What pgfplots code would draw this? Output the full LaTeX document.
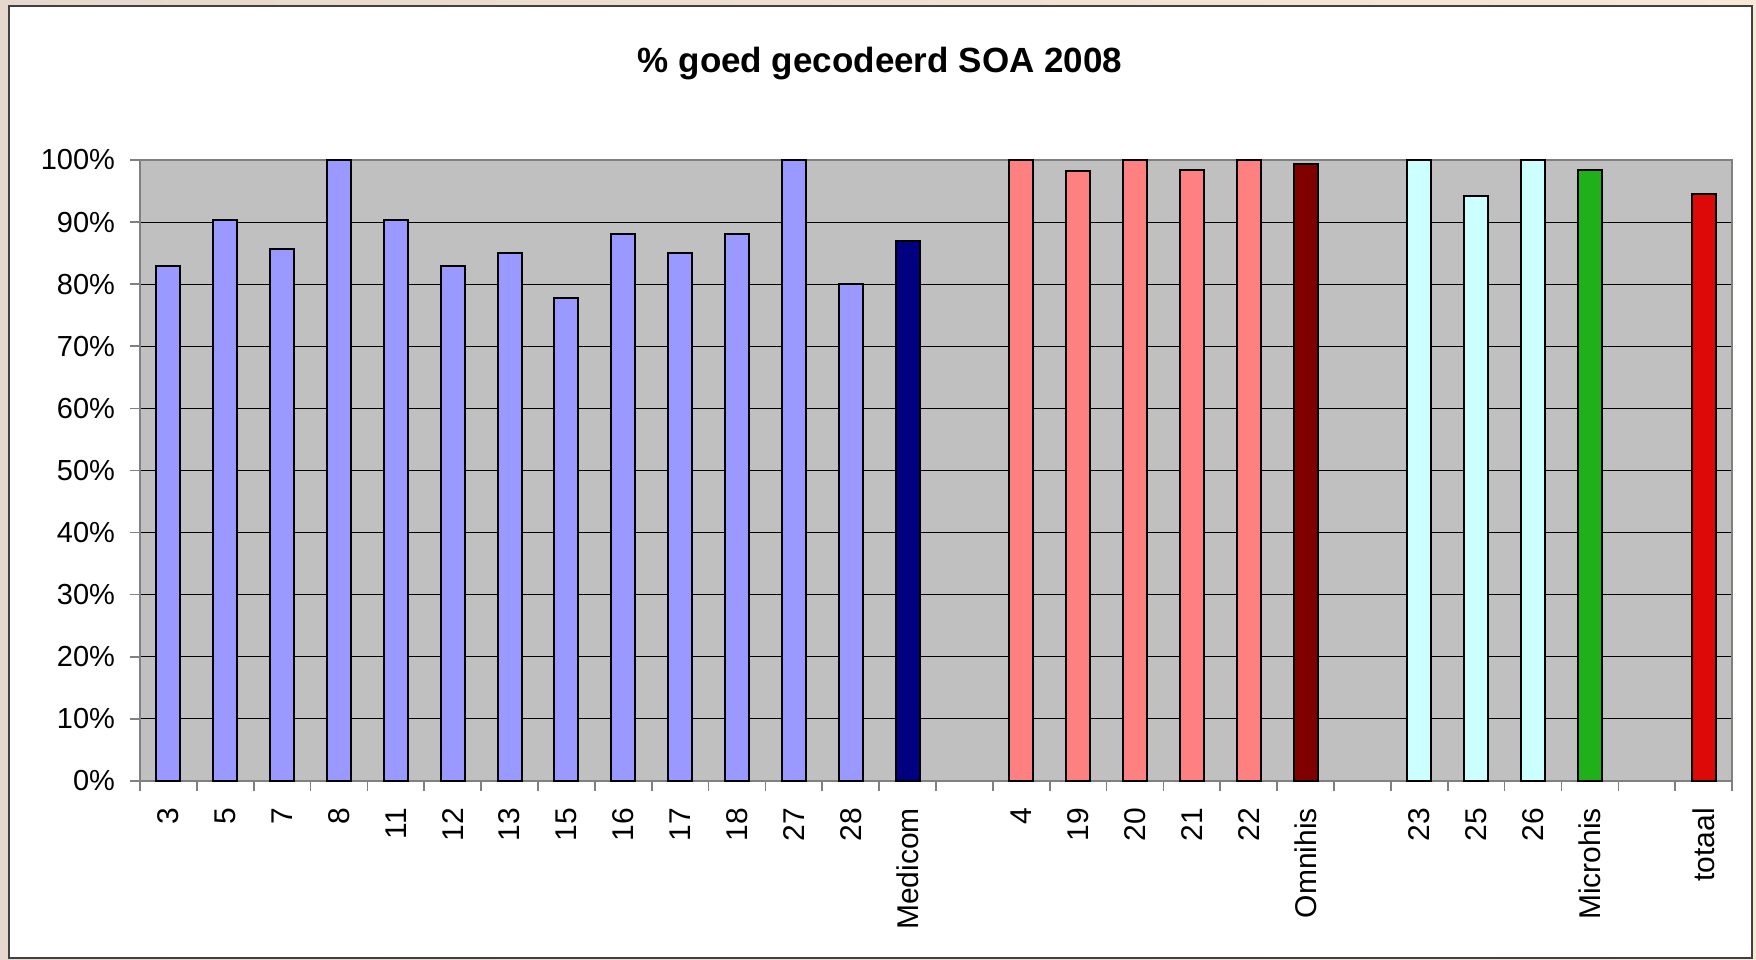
\documentclass[border=0pt]{standalone}
\usepackage{pgfplots}
\pgfplotsset{compat=1.18}
\usepackage{fontspec}
\setmainfont{Liberation Sans}
\definecolor{bgA}{RGB}{230,216,204}
\definecolor{bgB}{RGB}{248,232,214}
\definecolor{plotgray}{RGB}{192,192,192}
\definecolor{cblue}{RGB}{153,153,255}
\definecolor{cnavy}{RGB}{0,0,128}
\definecolor{cpink}{RGB}{255,128,128}
\definecolor{cmaroon}{RGB}{128,0,0}
\definecolor{ccyan}{RGB}{204,255,255}
\definecolor{cgreen}{RGB}{32,176,26}
\definecolor{cred}{RGB}{221,8,8}
\begin{document}
\begin{tikzpicture}
\shade[left color=bgA, right color=bgB] (0pt,0pt) rectangle (878pt,479.5pt);
\fill[white, draw=black!75, line width=0.8pt] (4.5pt,0.5pt) rectangle (876pt,476.5pt);
\node[font=\bfseries\fontsize{17.5}{21}\selectfont] at (440pt,447.8pt) {\% goed gecodeerd SOA 2008};
\begin{axis}[
  at={(70pt,89pt)}, anchor=south west,
  width=796pt, height=310.5pt, scale only axis,
  xmin=-0.5, xmax=27.5, ymin=0, ymax=100,
  clip=false,
  axis background/.style={fill=plotgray},
  axis line style={draw=gray, line width=0.8pt},
  ybar, bar width=12pt,
  xtick pos=bottom, ytick pos=left,
  ytick={0,10,...,100},
  yticklabels={0\%,10\%,20\%,30\%,40\%,50\%,60\%,70\%,80\%,90\%,100\%},
  xtick={0,...,27},
  xticklabels={3,5,7,8,11,12,13,15,16,17,18,27,28,Medicom,{},4,19,20,21,22,Omnihis,{},23,25,26,Microhis,{},totaal},
  minor xtick={-0.5,0.5,...,27.5},
  major x tick style={draw=none},
  minor x tick style={draw=gray, line width=0.8pt},
  major y tick style={draw=gray, line width=0.8pt},
  tick align=outside,
  major tick length=5pt, minor tick length=5pt,
  ymajorgrids, major grid style={black, line width=0.5pt},
  yticklabel style={font=\fontsize{14.5}{17}\selectfont},
  xticklabel style={font=\fontsize{15}{18}\selectfont, rotate=90, anchor=east},
  xticklabel shift=5pt, yticklabel shift=4pt,
  every axis plot/.append style={draw=black, line width=1pt, bar shift=0pt},
]
\addplot[fill=cblue] coordinates {(0,82.9) (1,90.4) (2,85.7) (3,100) (4,90.4) (5,83.0) (6,85.0) (7,77.8) (8,88.1) (9,85.0) (10,88.1) (11,100) (12,80.1)};
\addplot[fill=cnavy] coordinates {(13,87.0)};
\addplot[fill=cpink] coordinates {(15,100) (16,98.2) (17,100) (18,98.4) (19,100)};
\addplot[fill=cmaroon] coordinates {(20,99.3)};
\addplot[fill=ccyan] coordinates {(22,100) (23,94.2) (24,100)};
\addplot[fill=cgreen] coordinates {(25,98.4)};
\addplot[fill=cred] coordinates {(27,94.6)};
\end{axis}
\end{tikzpicture}
\end{document}
